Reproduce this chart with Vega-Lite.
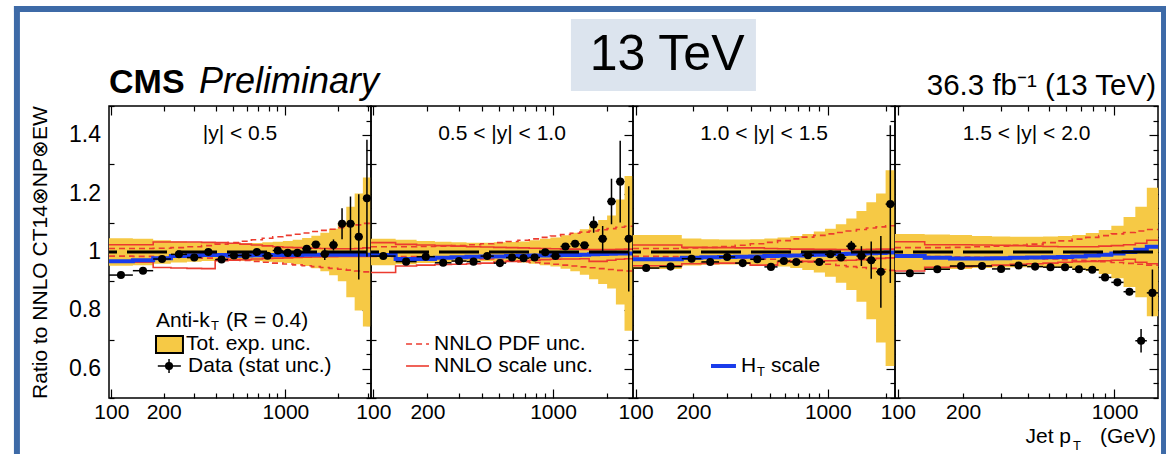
{
  "$schema": "https://vega.github.io/schema/vega-lite/v6.json",
  "autosize": {"type": "pad"},
  "padding": {"left": 10, "top": 2, "right": 0, "bottom": 0},
  "background": "white",
  "datasets": {
    "p1": [
      {"i":1,"lo":97,"hi":133,"pt":113.6,"r":0.921,"e":0.002,"bl":0.953,"bh":1.047,"su":1.025,"sd":0.965,"pu":1.012,"pd":0.986,"ht":0.968},
      {"i":2,"lo":133,"hi":174,"pt":152.1,"r":0.936,"e":0.002,"bl":0.955,"bh":1.045,"su":1.025,"sd":0.965,"pu":1.012,"pd":0.985,"ht":0.972},
      {"i":3,"lo":174,"hi":220,"pt":195.7,"r":0.976,"e":0.002,"bl":0.96,"bh":1.04,"su":1.034,"sd":0.947,"pu":1.013,"pd":0.984,"ht":0.979},
      {"i":4,"lo":220,"hi":272,"pt":244.6,"r":0.992,"e":0.002,"bl":0.964,"bh":1.036,"su":1.034,"sd":0.945,"pu":1.015,"pd":0.983,"ht":0.986},
      {"i":5,"lo":272,"hi":330,"pt":299.6,"r":0.981,"e":0.002,"bl":0.967,"bh":1.033,"su":1.034,"sd":0.944,"pu":1.018,"pd":0.981,"ht":0.989},
      {"i":6,"lo":330,"hi":395,"pt":361,"r":1.0,"e":0.002,"bl":0.969,"bh":1.031,"su":1.033,"sd":0.943,"pu":1.022,"pd":0.979,"ht":0.99},
      {"i":7,"lo":395,"hi":468,"pt":430,"r":0.974,"e":0.002,"bl":0.97,"bh":1.03,"su":1.032,"sd":0.97,"pu":1.027,"pd":0.977,"ht":0.99},
      {"i":8,"lo":468,"hi":548,"pt":506.4,"r":0.988,"e":0.002,"bl":0.97,"bh":1.03,"su":1.03,"sd":0.972,"pu":1.032,"pd":0.974,"ht":0.987},
      {"i":9,"lo":548,"hi":638,"pt":591.3,"r":0.988,"e":0.002,"bl":0.97,"bh":1.03,"su":1.027,"sd":0.974,"pu":1.037,"pd":0.971,"ht":0.988},
      {"i":10,"lo":638,"hi":737,"pt":685.7,"r":1.0,"e":0.002,"bl":0.969,"bh":1.031,"su":1.024,"sd":0.976,"pu":1.042,"pd":0.968,"ht":0.989},
      {"i":11,"lo":737,"hi":846,"pt":789.6,"r":0.987,"e":0.002,"bl":0.967,"bh":1.033,"su":1.021,"sd":0.978,"pu":1.047,"pd":0.965,"ht":0.99},
      {"i":12,"lo":846,"hi":967,"pt":904.5,"r":1.005,"e":0.003,"bl":0.965,"bh":1.035,"su":1.018,"sd":0.979,"pu":1.052,"pd":0.962,"ht":0.99},
      {"i":13,"lo":967,"hi":1101,"pt":1031.8,"r":0.997,"e":0.003,"bl":0.962,"bh":1.038,"su":1.016,"sd":0.98,"pu":1.057,"pd":0.959,"ht":0.99},
      {"i":14,"lo":1101,"hi":1248,"pt":1172.2,"r":0.997,"e":0.004,"bl":0.958,"bh":1.042,"su":1.015,"sd":0.981,"pu":1.061,"pd":0.956,"ht":0.99},
      {"i":15,"lo":1248,"hi":1410,"pt":1326.5,"r":1.011,"e":0.006,"bl":0.952,"bh":1.048,"su":1.014,"sd":0.982,"pu":1.065,"pd":0.953,"ht":0.991},
      {"i":16,"lo":1410,"hi":1588,"pt":1496.3,"r":1.026,"e":0.012,"bl":0.944,"bh":1.056,"su":1.013,"sd":0.983,"pu":1.07,"pd":0.95,"ht":0.991},
      {"i":17,"lo":1588,"hi":1784,"pt":1683.1,"r":0.993,"e":0.02,"bl":0.934,"bh":1.066,"su":1.012,"sd":0.984,"pu":1.074,"pd":0.947,"ht":0.991},
      {"i":18,"lo":1784,"hi":2000,"pt":1889,"r":1.024,"e":0.019,"bl":0.92,"bh":1.08,"su":1.011,"sd":0.984,"pu":1.078,"pd":0.944,"ht":0.991},
      {"i":19,"lo":2000,"hi":2238,"pt":2115.7,"r":1.097,"e":0.053,"bl":0.9,"bh":1.1,"su":1.011,"sd":0.985,"pu":1.083,"pd":0.941,"ht":0.991},
      {"i":20,"lo":2238,"hi":2500,"pt":2365.4,"r":1.097,"e":0.093,"bl":0.845,"bh":1.155,"su":1.011,"sd":0.985,"pu":1.088,"pd":0.938,"ht":0.991},
      {"i":21,"lo":2500,"hi":2787,"pt":2639.6,"r":1.052,"e":0.146,"bl":0.8,"bh":1.2,"su":1.012,"sd":0.985,"pu":1.093,"pd":0.935,"ht":0.991},
      {"i":22,"lo":2787,"hi":3103,"pt":2940.8,"r":1.184,"e":0.2,"bl":0.745,"bh":1.255,"su":1.014,"sd":0.985,"pu":1.098,"pd":0.932,"ht":0.991}
    ],
    "p2": [
      {"i":1,"lo":97,"hi":133,"pt":113.6,"r":0.986,"e":0.002,"bl":0.955,"bh":1.045,"su":1.032,"sd":0.93,"pu":1.018,"pd":0.985,"ht":0.99},
      {"i":2,"lo":133,"hi":174,"pt":152.1,"r":0.967,"e":0.002,"bl":0.958,"bh":1.042,"su":1.026,"sd":0.952,"pu":1.018,"pd":0.984,"ht":0.976},
      {"i":3,"lo":174,"hi":220,"pt":195.7,"r":0.984,"e":0.002,"bl":0.962,"bh":1.038,"su":1.024,"sd":0.955,"pu":1.019,"pd":0.983,"ht":0.976},
      {"i":4,"lo":220,"hi":272,"pt":244.6,"r":0.963,"e":0.002,"bl":0.965,"bh":1.035,"su":1.022,"sd":0.957,"pu":1.02,"pd":0.982,"ht":0.98},
      {"i":5,"lo":272,"hi":330,"pt":299.6,"r":0.969,"e":0.002,"bl":0.967,"bh":1.033,"su":1.02,"sd":0.958,"pu":1.022,"pd":0.98,"ht":0.982},
      {"i":6,"lo":330,"hi":395,"pt":361,"r":0.967,"e":0.002,"bl":0.968,"bh":1.032,"su":1.018,"sd":0.96,"pu":1.025,"pd":0.978,"ht":0.984},
      {"i":7,"lo":395,"hi":468,"pt":430,"r":0.986,"e":0.002,"bl":0.968,"bh":1.032,"su":1.017,"sd":0.962,"pu":1.028,"pd":0.976,"ht":0.985},
      {"i":8,"lo":468,"hi":548,"pt":506.4,"r":0.962,"e":0.002,"bl":0.967,"bh":1.033,"su":1.016,"sd":0.966,"pu":1.032,"pd":0.973,"ht":0.985},
      {"i":9,"lo":548,"hi":638,"pt":591.3,"r":0.981,"e":0.002,"bl":0.966,"bh":1.034,"su":1.015,"sd":0.968,"pu":1.036,"pd":0.97,"ht":0.986},
      {"i":10,"lo":638,"hi":737,"pt":685.7,"r":0.979,"e":0.002,"bl":0.964,"bh":1.036,"su":1.014,"sd":0.97,"pu":1.04,"pd":0.967,"ht":0.987},
      {"i":11,"lo":737,"hi":846,"pt":789.6,"r":0.981,"e":0.003,"bl":0.96,"bh":1.04,"su":1.013,"sd":0.972,"pu":1.045,"pd":0.964,"ht":0.988},
      {"i":12,"lo":846,"hi":967,"pt":904.5,"r":0.999,"e":0.003,"bl":0.955,"bh":1.045,"su":1.012,"sd":0.974,"pu":1.05,"pd":0.961,"ht":0.988},
      {"i":13,"lo":967,"hi":1101,"pt":1031.8,"r":0.986,"e":0.004,"bl":0.95,"bh":1.05,"su":1.011,"sd":0.975,"pu":1.055,"pd":0.958,"ht":0.989},
      {"i":14,"lo":1101,"hi":1248,"pt":1172.2,"r":1.019,"e":0.006,"bl":0.943,"bh":1.057,"su":1.01,"sd":0.976,"pu":1.06,"pd":0.955,"ht":0.99},
      {"i":15,"lo":1248,"hi":1410,"pt":1326.5,"r":1.028,"e":0.008,"bl":0.934,"bh":1.066,"su":1.01,"sd":0.976,"pu":1.064,"pd":0.952,"ht":0.99},
      {"i":16,"lo":1410,"hi":1588,"pt":1496.3,"r":1.023,"e":0.01,"bl":0.922,"bh":1.078,"su":1.009,"sd":0.977,"pu":1.068,"pd":0.949,"ht":0.991},
      {"i":17,"lo":1588,"hi":1784,"pt":1683.1,"r":1.094,"e":0.028,"bl":0.907,"bh":1.093,"su":1.008,"sd":0.968,"pu":1.072,"pd":0.946,"ht":0.992},
      {"i":18,"lo":1784,"hi":2000,"pt":1889,"r":1.045,"e":0.044,"bl":0.89,"bh":1.11,"su":1.008,"sd":0.968,"pu":1.076,"pd":0.943,"ht":0.993},
      {"i":19,"lo":2000,"hi":2238,"pt":2115.7,"r":1.173,"e":0.078,"bl":0.875,"bh":1.125,"su":1.008,"sd":0.972,"pu":1.08,"pd":0.94,"ht":0.994},
      {"i":20,"lo":2238,"hi":2500,"pt":2365.4,"r":1.241,"e":0.14,"bl":0.82,"bh":1.18,"su":1.009,"sd":0.975,"pu":1.085,"pd":0.937,"ht":0.995},
      {"i":21,"lo":2500,"hi":2787,"pt":2639.6,"r":1.045,"e":0.18,"bl":0.73,"bh":1.26,"su":1.01,"sd":0.977,"pu":1.088,"pd":0.935,"ht":0.995}
    ],
    "p3": [
      {"i":1,"lo":97,"hi":133,"pt":113.6,"r":0.945,"e":0.002,"bl":0.942,"bh":1.058,"su":1.024,"sd":0.953,"pu":1.012,"pd":0.985,"ht":0.975},
      {"i":2,"lo":133,"hi":174,"pt":152.1,"r":0.95,"e":0.002,"bl":0.942,"bh":1.058,"su":1.024,"sd":0.953,"pu":1.012,"pd":0.984,"ht":0.975},
      {"i":3,"lo":174,"hi":220,"pt":195.7,"r":0.977,"e":0.002,"bl":0.954,"bh":1.046,"su":1.016,"sd":0.96,"pu":1.014,"pd":0.983,"ht":0.98},
      {"i":4,"lo":220,"hi":272,"pt":244.6,"r":0.966,"e":0.002,"bl":0.956,"bh":1.044,"su":1.015,"sd":0.961,"pu":1.016,"pd":0.982,"ht":0.982},
      {"i":5,"lo":272,"hi":330,"pt":299.6,"r":0.983,"e":0.002,"bl":0.957,"bh":1.043,"su":1.015,"sd":0.962,"pu":1.019,"pd":0.981,"ht":0.983},
      {"i":6,"lo":330,"hi":395,"pt":361,"r":0.962,"e":0.002,"bl":0.957,"bh":1.043,"su":1.014,"sd":0.962,"pu":1.023,"pd":0.979,"ht":0.984},
      {"i":7,"lo":395,"hi":468,"pt":430,"r":0.975,"e":0.002,"bl":0.956,"bh":1.044,"su":1.014,"sd":0.955,"pu":1.028,"pd":0.977,"ht":0.985},
      {"i":8,"lo":468,"hi":548,"pt":506.4,"r":0.949,"e":0.002,"bl":0.954,"bh":1.046,"su":1.012,"sd":0.955,"pu":1.033,"pd":0.975,"ht":0.986},
      {"i":9,"lo":548,"hi":638,"pt":591.3,"r":0.969,"e":0.002,"bl":0.95,"bh":1.05,"su":1.011,"sd":0.966,"pu":1.039,"pd":0.972,"ht":0.987},
      {"i":10,"lo":638,"hi":737,"pt":685.7,"r":0.966,"e":0.003,"bl":0.945,"bh":1.055,"su":1.01,"sd":0.967,"pu":1.045,"pd":0.969,"ht":0.988},
      {"i":11,"lo":737,"hi":846,"pt":789.6,"r":0.989,"e":0.003,"bl":0.938,"bh":1.062,"su":1.01,"sd":0.968,"pu":1.051,"pd":0.966,"ht":0.99},
      {"i":12,"lo":846,"hi":967,"pt":904.5,"r":0.966,"e":0.004,"bl":0.93,"bh":1.07,"su":1.009,"sd":0.969,"pu":1.057,"pd":0.962,"ht":0.991},
      {"i":13,"lo":967,"hi":1101,"pt":1031.8,"r":0.992,"e":0.005,"bl":0.915,"bh":1.08,"su":1.009,"sd":0.97,"pu":1.062,"pd":0.958,"ht":0.992},
      {"i":14,"lo":1101,"hi":1248,"pt":1172.2,"r":0.981,"e":0.007,"bl":0.895,"bh":1.095,"su":1.008,"sd":0.971,"pu":1.067,"pd":0.954,"ht":0.993},
      {"i":15,"lo":1248,"hi":1410,"pt":1326.5,"r":1.02,"e":0.018,"bl":0.87,"bh":1.115,"su":1.008,"sd":0.972,"pu":1.072,"pd":0.95,"ht":0.994},
      {"i":16,"lo":1410,"hi":1588,"pt":1496.3,"r":0.986,"e":0.034,"bl":0.83,"bh":1.14,"su":1.008,"sd":0.974,"pu":1.077,"pd":0.947,"ht":0.995},
      {"i":17,"lo":1588,"hi":1784,"pt":1683.1,"r":0.972,"e":0.064,"bl":0.77,"bh":1.17,"su":1.009,"sd":0.976,"pu":1.082,"pd":0.944,"ht":0.996},
      {"i":18,"lo":1784,"hi":2000,"pt":1889,"r":0.932,"e":0.123,"bl":0.69,"bh":1.2,"su":1.01,"sd":0.978,"pu":1.086,"pd":0.94,"ht":0.997},
      {"i":19,"lo":2000,"hi":2238,"pt":2115.7,"r":1.164,"e":0.27,"bl":0.61,"bh":1.28,"su":1.01,"sd":0.98,"pu":1.09,"pd":0.937,"ht":0.998}
    ],
    "p4": [
      {"i":1,"lo":97,"hi":133,"pt":113.6,"r":0.927,"e":0.002,"bl":0.938,"bh":1.062,"su":1.035,"sd":0.935,"pu":1.015,"pd":0.985,"ht":0.986},
      {"i":2,"lo":133,"hi":174,"pt":152.1,"r":0.941,"e":0.002,"bl":0.94,"bh":1.06,"su":1.025,"sd":0.948,"pu":1.015,"pd":0.984,"ht":0.98},
      {"i":3,"lo":174,"hi":220,"pt":195.7,"r":0.952,"e":0.002,"bl":0.942,"bh":1.058,"su":1.025,"sd":0.95,"pu":1.016,"pd":0.983,"ht":0.978},
      {"i":4,"lo":220,"hi":272,"pt":244.6,"r":0.952,"e":0.002,"bl":0.945,"bh":1.055,"su":1.024,"sd":0.952,"pu":1.018,"pd":0.982,"ht":0.978},
      {"i":5,"lo":272,"hi":330,"pt":299.6,"r":0.942,"e":0.002,"bl":0.947,"bh":1.053,"su":1.023,"sd":0.955,"pu":1.02,"pd":0.981,"ht":0.979},
      {"i":6,"lo":330,"hi":395,"pt":361,"r":0.954,"e":0.002,"bl":0.948,"bh":1.052,"su":1.022,"sd":0.958,"pu":1.023,"pd":0.98,"ht":0.98},
      {"i":7,"lo":395,"hi":468,"pt":430,"r":0.95,"e":0.002,"bl":0.948,"bh":1.052,"su":1.02,"sd":0.96,"pu":1.027,"pd":0.978,"ht":0.981},
      {"i":8,"lo":468,"hi":548,"pt":506.4,"r":0.948,"e":0.002,"bl":0.947,"bh":1.053,"su":1.019,"sd":0.962,"pu":1.032,"pd":0.976,"ht":0.982},
      {"i":9,"lo":548,"hi":638,"pt":591.3,"r":0.948,"e":0.003,"bl":0.945,"bh":1.055,"su":1.018,"sd":0.965,"pu":1.038,"pd":0.974,"ht":0.983},
      {"i":10,"lo":638,"hi":737,"pt":685.7,"r":0.941,"e":0.003,"bl":0.942,"bh":1.058,"su":1.018,"sd":0.967,"pu":1.044,"pd":0.972,"ht":0.985},
      {"i":11,"lo":737,"hi":846,"pt":789.6,"r":0.939,"e":0.004,"bl":0.935,"bh":1.065,"su":1.018,"sd":0.968,"pu":1.05,"pd":0.97,"ht":0.988},
      {"i":12,"lo":846,"hi":967,"pt":904.5,"r":0.913,"e":0.005,"bl":0.925,"bh":1.075,"su":1.02,"sd":0.97,"pu":1.056,"pd":0.967,"ht":0.991},
      {"i":13,"lo":967,"hi":1101,"pt":1031.8,"r":0.896,"e":0.007,"bl":0.91,"bh":1.09,"su":1.022,"sd":0.972,"pu":1.062,"pd":0.964,"ht":0.995},
      {"i":14,"lo":1101,"hi":1248,"pt":1172.2,"r":0.864,"e":0.012,"bl":0.88,"bh":1.12,"su":1.025,"sd":0.975,"pu":1.067,"pd":0.961,"ht":1.0},
      {"i":15,"lo":1248,"hi":1410,"pt":1326.5,"r":0.696,"e":0.04,"bl":0.845,"bh":1.155,"su":1.03,"sd":0.965,"pu":1.072,"pd":0.958,"ht":1.008},
      {"i":16,"lo":1410,"hi":1588,"pt":1496.3,"r":0.86,"e":0.08,"bl":0.78,"bh":1.22,"su":1.04,"sd":0.96,"pu":1.077,"pd":0.955,"ht":1.018}
    ]
  },
  "spacing": 0,
  "bounds": "flush",
  "hconcat": [
    {
      "width": 262, "height": 292,
      "data": {"name": "p1"},
      "layer": [
        {
          "layer": [
            {"transform": [{"fold": ["lo", "hi"], "as": ["edge", "xe"]}],
             "mark": {"type": "area", "color": "#f6c945", "opacity": 1},
             "encoding": {
               "x": {"field": "xe", "type": "quantitative", "scale": {"type": "log", "domain": [97, 3103], "nice": false},
                     "axis": {"orient": "bottom", "title": null, "values": [100,200,300,400,500,600,700,800,900,1000,2000,3000],
                              "tickSize": {"condition": {"test": "datum.value == 100 || datum.value == 1000", "value": -9}, "value": -5},
                              "labelPadding": {"condition": {"test": "datum.value == 100 || datum.value == 1000", "value": 12}, "value": 8},
                              "labelExpr": "datum.value == 100 ? '100' : datum.value == 200 ? '200' : datum.value == 1000 ? '1000' : ''"}},
               "y": {"field": "bl", "type": "quantitative", "scale": {"domain": [0.5, 1.5], "nice": false, "zero": false},
                     "axis": {"orient": "left", "title": "Ratio to NNLO CT14⊗NP⊗EW", "titlePadding": 58, "labels": false,
                              "values": [0.5,0.55,0.6,0.65,0.7,0.75,0.8,0.85,0.9,0.95,1,1.05,1.1,1.15,1.2,1.25,1.3,1.35,1.4,1.45,1.5],
                              "tickSize": {"condition": {"test": "datum.value == 0.6 || datum.value == 0.8 || datum.value == 1 || datum.value == 1.2 || datum.value == 1.4", "value": -9}, "value": -5}}},
               "y2": {"field": "bh"},
               "order": [{"field": "i", "type": "quantitative"}, {"field": "edge", "type": "nominal", "sort": "descending"}]}},
            {"transform": [{"fold": ["lo", "hi"], "as": ["edge", "xe"]}],
             "mark": {"type": "line", "color": "#ec3b2f", "strokeWidth": 1.6, "strokeDash": [6, 4]},
             "encoding": {"x": {"field": "xe", "type": "quantitative"}, "y": {"field": "pu", "type": "quantitative"},
                          "order": [{"field": "i", "type": "quantitative"}, {"field": "edge", "type": "nominal", "sort": "descending"}]}},
            {"transform": [{"fold": ["lo", "hi"], "as": ["edge", "xe"]}],
             "mark": {"type": "line", "color": "#ec3b2f", "strokeWidth": 1.6, "strokeDash": [6, 4]},
             "encoding": {"x": {"field": "xe", "type": "quantitative"}, "y": {"field": "pd", "type": "quantitative"},
                          "order": [{"field": "i", "type": "quantitative"}, {"field": "edge", "type": "nominal", "sort": "descending"}]}},
            {"transform": [{"fold": ["lo", "hi"], "as": ["edge", "xe"]}],
             "mark": {"type": "line", "color": "#ec3b2f", "strokeWidth": 1.6},
             "encoding": {"x": {"field": "xe", "type": "quantitative"}, "y": {"field": "su", "type": "quantitative"},
                          "order": [{"field": "i", "type": "quantitative"}, {"field": "edge", "type": "nominal", "sort": "descending"}]}},
            {"transform": [{"fold": ["lo", "hi"], "as": ["edge", "xe"]}],
             "mark": {"type": "line", "color": "#ec3b2f", "strokeWidth": 1.6},
             "encoding": {"x": {"field": "xe", "type": "quantitative"}, "y": {"field": "sd", "type": "quantitative"},
                          "order": [{"field": "i", "type": "quantitative"}, {"field": "edge", "type": "nominal", "sort": "descending"}]}},
            {"transform": [{"fold": ["lo", "hi"], "as": ["edge", "xe"]}],
             "mark": {"type": "line", "color": "#1a3ceb", "strokeWidth": 4},
             "encoding": {"x": {"field": "xe", "type": "quantitative"}, "y": {"field": "ht", "type": "quantitative"},
                          "order": [{"field": "i", "type": "quantitative"}, {"field": "edge", "type": "nominal", "sort": "descending"}]}},
            {"mark": {"type": "rule", "color": "black", "strokeWidth": 1.5},
             "encoding": {"x": {"field": "lo", "type": "quantitative"}, "x2": {"field": "hi"}, "y": {"field": "r", "type": "quantitative"}}},
            {"mark": {"type": "errorbar", "color": "black", "thickness": 1.5},
             "encoding": {"x": {"field": "pt", "type": "quantitative"}, "y": {"field": "r", "type": "quantitative", "title": "Ratio to NNLO CT14⊗NP⊗EW"}, "yError": {"field": "e"}}},
            {"mark": {"type": "point", "shape": "circle", "filled": true, "color": "black", "opacity": 1, "size": 65},
             "encoding": {"x": {"field": "pt", "type": "quantitative"}, "y": {"field": "r", "type": "quantitative"}}},
            {"data": {"values": [{"v": 0.6}, {"v": 0.8}, {"v": 1}, {"v": 1.2}, {"v": 1.4}]},
             "mark": {"type": "text", "align": "right", "baseline": "middle", "fontSize": 23},
             "encoding": {"x": {"datum": 87.3, "type": "quantitative"}, "y": {"field": "v", "type": "quantitative"},
                          "text": {"field": "v", "type": "quantitative", "format": "~g"}}},
            {"data": {"values": [{}]}, "mark": {"type": "text", "text": "|y| < 0.5", "align": "center", "baseline": "middle"},
             "encoding": {"x": {"datum": 548.6, "type": "quantitative"}, "y": {"datum": 1.404, "type": "quantitative"}}},
            {"data": {"values": [{}]}, "mark": {"type": "text", "text": "CMS", "fontSize": 34, "fontWeight": "bold", "align": "left", "baseline": "alphabetic"},
             "encoding": {"x": {"datum": 97, "type": "quantitative"}, "y": {"datum": 1.5445, "type": "quantitative"}}},
            {"data": {"values": [{}]}, "mark": {"type": "text", "text": "Preliminary", "fontSize": 36, "fontStyle": "italic", "align": "left", "baseline": "alphabetic", "dx": 90},
             "encoding": {"x": {"datum": 97, "type": "quantitative"}, "y": {"datum": 1.5445, "type": "quantitative"}}},
            {"data": {"values": [{}]}, "mark": {"type": "text", "text": "Anti-k", "align": "left", "baseline": "middle"},
             "encoding": {"x": {"datum": 180.6, "type": "quantitative"}, "y": {"datum": 0.7637, "type": "quantitative"}}},
            {"data": {"values": [{}]}, "mark": {"type": "text", "text": "T", "fontSize": 13, "align": "left", "baseline": "middle", "dx": 55, "dy": 5},
             "encoding": {"x": {"datum": 180.6, "type": "quantitative"}, "y": {"datum": 0.7637, "type": "quantitative"}}},
            {"data": {"values": [{}]}, "mark": {"type": "text", "text": "(R = 0.4)", "align": "left", "baseline": "middle", "dx": 70},
             "encoding": {"x": {"datum": 180.6, "type": "quantitative"}, "y": {"datum": 0.7637, "type": "quantitative"}}},
            {"data": {"values": [{}]}, "mark": {"type": "rect", "color": "#f6c945", "stroke": "black", "strokeWidth": 2},
             "encoding": {"x": {"datum": 180.6, "type": "quantitative"}, "x2": {"datum": 258}, "y": {"datum": 0.7123, "type": "quantitative"}, "y2": {"datum": 0.6541}}},
            {"data": {"values": [{}]}, "mark": {"type": "text", "text": "Tot. exp. unc.", "align": "left", "baseline": "middle"},
             "encoding": {"x": {"datum": 268.6, "type": "quantitative"}, "y": {"datum": 0.6849, "type": "quantitative"}}},
            {"data": {"values": [{}]}, "mark": {"type": "rule", "color": "black", "strokeWidth": 1.5},
             "encoding": {"x": {"datum": 185, "type": "quantitative"}, "x2": {"datum": 251}, "y": {"datum": 0.6096, "type": "quantitative"}}},
            {"data": {"values": [{}]}, "mark": {"type": "rule", "color": "black", "strokeWidth": 1.5},
             "encoding": {"x": {"datum": 214.6, "type": "quantitative"}, "y": {"datum": 0.6336, "type": "quantitative"}, "y2": {"datum": 0.5856}}},
            {"data": {"values": [{}]}, "mark": {"type": "point", "shape": "circle", "filled": true, "color": "black", "opacity": 1, "size": 65},
             "encoding": {"x": {"datum": 214.6, "type": "quantitative"}, "y": {"datum": 0.6096, "type": "quantitative"}}},
            {"data": {"values": [{}]}, "mark": {"type": "text", "text": "Data (stat unc.)", "align": "left", "baseline": "middle"},
             "encoding": {"x": {"datum": 276, "type": "quantitative"}, "y": {"datum": 0.6096, "type": "quantitative"}}},
            {"data": {"values": [{}]}, "mark": {"type": "rule", "color": "#3d6aa7", "strokeWidth": 6},
             "encoding": {"x": {"datum": 28.7, "type": "quantitative"}, "y": {"datum": 1.8425, "type": "quantitative"}, "y2": {"datum": 0.3048}}},
            {"data": {"values": [{}]}, "mark": {"type": "rule", "color": "#3d6aa7", "strokeWidth": 6},
             "encoding": {"x": {"datum": 27.6, "type": "quantitative"}, "x2": {"datum": 3103}, "y": {"datum": 1.832, "type": "quantitative"}}}
          ]
        },
        {"data": {"values": [{}]},
         "mark": {"type": "rule", "color": "black", "strokeWidth": 3, "strokeDash": [40, 10], "strokeDashOffset": -18},
         "encoding": {
           "x": {"datum": 97, "type": "quantitative", "scale": {"type": "log", "domain": [97, 3103], "nice": false},
                 "axis": {"orient": "top", "title": null, "labels": false, "values": [100,200,300,400,500,600,700,800,900,1000,2000,3000],
                          "tickSize": {"condition": {"test": "datum.value == 100 || datum.value == 1000", "value": -9}, "value": -5}}},
           "x2": {"datum": 3103},
           "y": {"datum": 1, "type": "quantitative", "scale": {"domain": [0.5, 1.5], "nice": false, "zero": false},
                 "axis": {"orient": "right", "title": null, "labels": false,
                          "values": [0.5,0.55,0.6,0.65,0.7,0.75,0.8,0.85,0.9,0.95,1,1.05,1.1,1.15,1.2,1.25,1.3,1.35,1.4,1.45,1.5],
                          "tickSize": {"condition": {"test": "datum.value == 0.6 || datum.value == 0.8 || datum.value == 1 || datum.value == 1.2 || datum.value == 1.4", "value": -9}, "value": -5}}}}}
      ],
      "resolve": {"scale": {"x": "independent", "y": "independent"}}
    },
    {
      "width": 262, "height": 292,
      "data": {"name": "p2"},
      "layer": [
        {
          "layer": [
            {"transform": [{"fold": ["lo", "hi"], "as": ["edge", "xe"]}],
             "mark": {"type": "area", "color": "#f6c945", "opacity": 1},
             "encoding": {
               "x": {"field": "xe", "type": "quantitative", "scale": {"type": "log", "domain": [97, 2787], "nice": false},
                     "axis": {"orient": "bottom", "title": null, "values": [100,200,300,400,500,600,700,800,900,1000,2000],
                              "tickSize": {"condition": {"test": "datum.value == 100 || datum.value == 1000", "value": -9}, "value": -5},
                              "labelPadding": {"condition": {"test": "datum.value == 100 || datum.value == 1000", "value": 12}, "value": 8},
                              "labelExpr": "datum.value == 100 ? '100' : datum.value == 200 ? '200' : datum.value == 1000 ? '1000' : ''"}},
               "y": {"field": "bl", "type": "quantitative", "scale": {"domain": [0.5, 1.5], "nice": false, "zero": false},
                     "axis": {"orient": "left", "title": null, "labels": false,
                              "values": [0.5,0.55,0.6,0.65,0.7,0.75,0.8,0.85,0.9,0.95,1,1.05,1.1,1.15,1.2,1.25,1.3,1.35,1.4,1.45,1.5],
                              "tickSize": {"condition": {"test": "datum.value == 0.6 || datum.value == 0.8 || datum.value == 1 || datum.value == 1.2 || datum.value == 1.4", "value": -9}, "value": -5}}},
               "y2": {"field": "bh"},
               "order": [{"field": "i", "type": "quantitative"}, {"field": "edge", "type": "nominal", "sort": "descending"}]}},
            {"transform": [{"fold": ["lo", "hi"], "as": ["edge", "xe"]}],
             "mark": {"type": "line", "color": "#ec3b2f", "strokeWidth": 1.6, "strokeDash": [6, 4]},
             "encoding": {"x": {"field": "xe", "type": "quantitative"}, "y": {"field": "pu", "type": "quantitative"},
                          "order": [{"field": "i", "type": "quantitative"}, {"field": "edge", "type": "nominal", "sort": "descending"}]}},
            {"transform": [{"fold": ["lo", "hi"], "as": ["edge", "xe"]}],
             "mark": {"type": "line", "color": "#ec3b2f", "strokeWidth": 1.6, "strokeDash": [6, 4]},
             "encoding": {"x": {"field": "xe", "type": "quantitative"}, "y": {"field": "pd", "type": "quantitative"},
                          "order": [{"field": "i", "type": "quantitative"}, {"field": "edge", "type": "nominal", "sort": "descending"}]}},
            {"transform": [{"fold": ["lo", "hi"], "as": ["edge", "xe"]}],
             "mark": {"type": "line", "color": "#ec3b2f", "strokeWidth": 1.6},
             "encoding": {"x": {"field": "xe", "type": "quantitative"}, "y": {"field": "su", "type": "quantitative"},
                          "order": [{"field": "i", "type": "quantitative"}, {"field": "edge", "type": "nominal", "sort": "descending"}]}},
            {"transform": [{"fold": ["lo", "hi"], "as": ["edge", "xe"]}],
             "mark": {"type": "line", "color": "#ec3b2f", "strokeWidth": 1.6},
             "encoding": {"x": {"field": "xe", "type": "quantitative"}, "y": {"field": "sd", "type": "quantitative"},
                          "order": [{"field": "i", "type": "quantitative"}, {"field": "edge", "type": "nominal", "sort": "descending"}]}},
            {"transform": [{"fold": ["lo", "hi"], "as": ["edge", "xe"]}],
             "mark": {"type": "line", "color": "#1a3ceb", "strokeWidth": 4},
             "encoding": {"x": {"field": "xe", "type": "quantitative"}, "y": {"field": "ht", "type": "quantitative"},
                          "order": [{"field": "i", "type": "quantitative"}, {"field": "edge", "type": "nominal", "sort": "descending"}]}},
            {"mark": {"type": "rule", "color": "black", "strokeWidth": 1.5},
             "encoding": {"x": {"field": "lo", "type": "quantitative"}, "x2": {"field": "hi"}, "y": {"field": "r", "type": "quantitative"}}},
            {"mark": {"type": "errorbar", "color": "black", "thickness": 1.5},
             "encoding": {"x": {"field": "pt", "type": "quantitative"}, "y": {"field": "r", "type": "quantitative"}, "yError": {"field": "e"}}},
            {"mark": {"type": "point", "shape": "circle", "filled": true, "color": "black", "opacity": 1, "size": 65},
             "encoding": {"x": {"field": "pt", "type": "quantitative"}, "y": {"field": "r", "type": "quantitative"}}},
            {"data": {"values": [{}]}, "mark": {"type": "text", "text": "0.5 < |y| < 1.0", "align": "center", "baseline": "middle"},
             "encoding": {"x": {"datum": 519.9, "type": "quantitative"}, "y": {"datum": 1.404, "type": "quantitative"}}},
            {"data": {"values": [{}]}, "mark": {"type": "rule", "color": "#ec3b2f", "strokeWidth": 1.6, "strokeDash": [6, 4]},
             "encoding": {"x": {"datum": 152, "type": "quantitative"}, "x2": {"datum": 204}, "y": {"datum": 0.6849, "type": "quantitative"}}},
            {"data": {"values": [{}]}, "mark": {"type": "text", "text": "NNLO PDF unc.", "align": "left", "baseline": "middle"},
             "encoding": {"x": {"datum": 217.5, "type": "quantitative"}, "y": {"datum": 0.6849, "type": "quantitative"}}},
            {"data": {"values": [{}]}, "mark": {"type": "rule", "color": "#ec3b2f", "strokeWidth": 1.6},
             "encoding": {"x": {"datum": 152, "type": "quantitative"}, "x2": {"datum": 204}, "y": {"datum": 0.6096, "type": "quantitative"}}},
            {"data": {"values": [{}]}, "mark": {"type": "text", "text": "NNLO scale unc.", "align": "left", "baseline": "middle"},
             "encoding": {"x": {"datum": 217.5, "type": "quantitative"}, "y": {"datum": 0.6096, "type": "quantitative"}}},
            {"data": {"values": [{}]}, "mark": {"type": "rule", "color": "#3d6aa7", "strokeWidth": 6},
             "encoding": {"x": {"datum": 97, "type": "quantitative"}, "x2": {"datum": 2787}, "y": {"datum": 1.832, "type": "quantitative"}}}
          ]
        },
        {"data": {"values": [{}]},
         "mark": {"type": "rule", "color": "black", "strokeWidth": 3, "strokeDash": [40, 10], "strokeDashOffset": -18},
         "encoding": {
           "x": {"datum": 97, "type": "quantitative", "scale": {"type": "log", "domain": [97, 2787], "nice": false},
                 "axis": {"orient": "top", "title": null, "labels": false, "values": [100,200,300,400,500,600,700,800,900,1000,2000],
                          "tickSize": {"condition": {"test": "datum.value == 100 || datum.value == 1000", "value": -9}, "value": -5}}},
           "x2": {"datum": 2787},
           "y": {"datum": 1, "type": "quantitative", "scale": {"domain": [0.5, 1.5], "nice": false, "zero": false},
                 "axis": {"orient": "right", "title": null, "labels": false,
                          "values": [0.5,0.55,0.6,0.65,0.7,0.75,0.8,0.85,0.9,0.95,1,1.05,1.1,1.15,1.2,1.25,1.3,1.35,1.4,1.45,1.5],
                          "tickSize": {"condition": {"test": "datum.value == 0.6 || datum.value == 0.8 || datum.value == 1 || datum.value == 1.2 || datum.value == 1.4", "value": -9}, "value": -5}}}}}
      ],
      "resolve": {"scale": {"x": "independent", "y": "independent"}}
    },
    {
      "width": 262, "height": 292,
      "data": {"name": "p3"},
      "layer": [
        {
          "layer": [
            {"transform": [{"fold": ["lo", "hi"], "as": ["edge", "xe"]}],
             "mark": {"type": "area", "color": "#f6c945", "opacity": 1},
             "encoding": {
               "x": {"field": "xe", "type": "quantitative", "scale": {"type": "log", "domain": [97, 2238], "nice": false},
                     "axis": {"orient": "bottom", "title": null, "values": [100,200,300,400,500,600,700,800,900,1000,2000],
                              "tickSize": {"condition": {"test": "datum.value == 100 || datum.value == 1000", "value": -9}, "value": -5},
                              "labelPadding": {"condition": {"test": "datum.value == 100 || datum.value == 1000", "value": 12}, "value": 8},
                              "labelExpr": "datum.value == 100 ? '100' : datum.value == 200 ? '200' : datum.value == 1000 ? '1000' : ''"}},
               "y": {"field": "bl", "type": "quantitative", "scale": {"domain": [0.5, 1.5], "nice": false, "zero": false},
                     "axis": {"orient": "left", "title": null, "labels": false,
                              "values": [0.5,0.55,0.6,0.65,0.7,0.75,0.8,0.85,0.9,0.95,1,1.05,1.1,1.15,1.2,1.25,1.3,1.35,1.4,1.45,1.5],
                              "tickSize": {"condition": {"test": "datum.value == 0.6 || datum.value == 0.8 || datum.value == 1 || datum.value == 1.2 || datum.value == 1.4", "value": -9}, "value": -5}}},
               "y2": {"field": "bh"},
               "order": [{"field": "i", "type": "quantitative"}, {"field": "edge", "type": "nominal", "sort": "descending"}]}},
            {"transform": [{"fold": ["lo", "hi"], "as": ["edge", "xe"]}],
             "mark": {"type": "line", "color": "#ec3b2f", "strokeWidth": 1.6, "strokeDash": [6, 4]},
             "encoding": {"x": {"field": "xe", "type": "quantitative"}, "y": {"field": "pu", "type": "quantitative"},
                          "order": [{"field": "i", "type": "quantitative"}, {"field": "edge", "type": "nominal", "sort": "descending"}]}},
            {"transform": [{"fold": ["lo", "hi"], "as": ["edge", "xe"]}],
             "mark": {"type": "line", "color": "#ec3b2f", "strokeWidth": 1.6, "strokeDash": [6, 4]},
             "encoding": {"x": {"field": "xe", "type": "quantitative"}, "y": {"field": "pd", "type": "quantitative"},
                          "order": [{"field": "i", "type": "quantitative"}, {"field": "edge", "type": "nominal", "sort": "descending"}]}},
            {"transform": [{"fold": ["lo", "hi"], "as": ["edge", "xe"]}],
             "mark": {"type": "line", "color": "#ec3b2f", "strokeWidth": 1.6},
             "encoding": {"x": {"field": "xe", "type": "quantitative"}, "y": {"field": "su", "type": "quantitative"},
                          "order": [{"field": "i", "type": "quantitative"}, {"field": "edge", "type": "nominal", "sort": "descending"}]}},
            {"transform": [{"fold": ["lo", "hi"], "as": ["edge", "xe"]}],
             "mark": {"type": "line", "color": "#ec3b2f", "strokeWidth": 1.6},
             "encoding": {"x": {"field": "xe", "type": "quantitative"}, "y": {"field": "sd", "type": "quantitative"},
                          "order": [{"field": "i", "type": "quantitative"}, {"field": "edge", "type": "nominal", "sort": "descending"}]}},
            {"transform": [{"fold": ["lo", "hi"], "as": ["edge", "xe"]}],
             "mark": {"type": "line", "color": "#1a3ceb", "strokeWidth": 4},
             "encoding": {"x": {"field": "xe", "type": "quantitative"}, "y": {"field": "ht", "type": "quantitative"},
                          "order": [{"field": "i", "type": "quantitative"}, {"field": "edge", "type": "nominal", "sort": "descending"}]}},
            {"mark": {"type": "rule", "color": "black", "strokeWidth": 1.5},
             "encoding": {"x": {"field": "lo", "type": "quantitative"}, "x2": {"field": "hi"}, "y": {"field": "r", "type": "quantitative"}}},
            {"mark": {"type": "errorbar", "color": "black", "thickness": 1.5},
             "encoding": {"x": {"field": "pt", "type": "quantitative"}, "y": {"field": "r", "type": "quantitative"}, "yError": {"field": "e"}}},
            {"mark": {"type": "point", "shape": "circle", "filled": true, "color": "black", "opacity": 1, "size": 65},
             "encoding": {"x": {"field": "pt", "type": "quantitative"}, "y": {"field": "r", "type": "quantitative"}}},
            {"data": {"values": [{}]}, "mark": {"type": "text", "text": "1.0 < |y| < 1.5", "align": "center", "baseline": "middle"},
             "encoding": {"x": {"datum": 465.9, "type": "quantitative"}, "y": {"datum": 1.404, "type": "quantitative"}}},
            {"data": {"values": [{}]}, "mark": {"type": "rule", "color": "#1a3ceb", "strokeWidth": 4},
             "encoding": {"x": {"datum": 247, "type": "quantitative"}, "x2": {"datum": 333}, "y": {"datum": 0.6096, "type": "quantitative"}}},
            {"data": {"values": [{}]}, "mark": {"type": "text", "text": "H", "align": "left", "baseline": "middle"},
             "encoding": {"x": {"datum": 354, "type": "quantitative"}, "y": {"datum": 0.6096, "type": "quantitative"}}},
            {"data": {"values": [{}]}, "mark": {"type": "text", "text": "T", "fontSize": 13, "align": "left", "baseline": "middle", "dx": 16, "dy": 6},
             "encoding": {"x": {"datum": 354, "type": "quantitative"}, "y": {"datum": 0.6096, "type": "quantitative"}}},
            {"data": {"values": [{}]}, "mark": {"type": "text", "text": "scale", "align": "left", "baseline": "middle", "dx": 30},
             "encoding": {"x": {"datum": 354, "type": "quantitative"}, "y": {"datum": 0.6096, "type": "quantitative"}}},
            {"data": {"values": [{}]}, "mark": {"type": "rect", "color": "#dce4ee"},
             "encoding": {"x": {"datum": 46.1, "type": "quantitative"}, "x2": {"datum": 423}, "y": {"datum": 1.798, "type": "quantitative"}, "y2": {"datum": 1.551}}},
            {"data": {"values": [{}]}, "mark": {"type": "text", "text": "13 TeV", "fontSize": 50, "align": "center", "baseline": "middle"},
             "encoding": {"x": {"datum": 146, "type": "quantitative"}, "y": {"datum": 1.675, "type": "quantitative"}}},
            {"data": {"values": [{}]}, "mark": {"type": "rule", "color": "#3d6aa7", "strokeWidth": 6},
             "encoding": {"x": {"datum": 97, "type": "quantitative"}, "x2": {"datum": 2238}, "y": {"datum": 1.832, "type": "quantitative"}}}
          ]
        },
        {"data": {"values": [{}]},
         "mark": {"type": "rule", "color": "black", "strokeWidth": 3, "strokeDash": [40, 10], "strokeDashOffset": -18},
         "encoding": {
           "x": {"datum": 97, "type": "quantitative", "scale": {"type": "log", "domain": [97, 2238], "nice": false},
                 "axis": {"orient": "top", "title": null, "labels": false, "values": [100,200,300,400,500,600,700,800,900,1000,2000],
                          "tickSize": {"condition": {"test": "datum.value == 100 || datum.value == 1000", "value": -9}, "value": -5}}},
           "x2": {"datum": 2238},
           "y": {"datum": 1, "type": "quantitative", "scale": {"domain": [0.5, 1.5], "nice": false, "zero": false},
                 "axis": {"orient": "right", "title": null, "labels": false,
                          "values": [0.5,0.55,0.6,0.65,0.7,0.75,0.8,0.85,0.9,0.95,1,1.05,1.1,1.15,1.2,1.25,1.3,1.35,1.4,1.45,1.5],
                          "tickSize": {"condition": {"test": "datum.value == 0.6 || datum.value == 0.8 || datum.value == 1 || datum.value == 1.2 || datum.value == 1.4", "value": -9}, "value": -5}}}}}
      ],
      "resolve": {"scale": {"x": "independent", "y": "independent"}}
    },
    {
      "width": 263, "height": 292,
      "data": {"name": "p4"},
      "layer": [
        {
          "layer": [
            {"transform": [{"fold": ["lo", "hi"], "as": ["edge", "xe"]}],
             "mark": {"type": "area", "color": "#f6c945", "opacity": 1},
             "encoding": {
               "x": {"field": "xe", "type": "quantitative", "scale": {"type": "log", "domain": [97, 1588], "nice": false},
                     "axis": {"orient": "bottom", "title": null, "values": [100,200,300,400,500,600,700,800,900,1000],
                              "tickSize": {"condition": {"test": "datum.value == 100 || datum.value == 1000", "value": -9}, "value": -5},
                              "labelPadding": {"condition": {"test": "datum.value == 100 || datum.value == 1000", "value": 12}, "value": 8},
                              "labelExpr": "datum.value == 100 ? '100' : datum.value == 200 ? '200' : datum.value == 1000 ? '1000' : ''"}},
               "y": {"field": "bl", "type": "quantitative", "scale": {"domain": [0.5, 1.5], "nice": false, "zero": false},
                     "axis": {"orient": "left", "title": null, "labels": false,
                              "values": [0.5,0.55,0.6,0.65,0.7,0.75,0.8,0.85,0.9,0.95,1,1.05,1.1,1.15,1.2,1.25,1.3,1.35,1.4,1.45,1.5],
                              "tickSize": {"condition": {"test": "datum.value == 0.6 || datum.value == 0.8 || datum.value == 1 || datum.value == 1.2 || datum.value == 1.4", "value": -9}, "value": -5}}},
               "y2": {"field": "bh"},
               "order": [{"field": "i", "type": "quantitative"}, {"field": "edge", "type": "nominal", "sort": "descending"}]}},
            {"transform": [{"fold": ["lo", "hi"], "as": ["edge", "xe"]}],
             "mark": {"type": "line", "color": "#ec3b2f", "strokeWidth": 1.6, "strokeDash": [6, 4]},
             "encoding": {"x": {"field": "xe", "type": "quantitative"}, "y": {"field": "pu", "type": "quantitative"},
                          "order": [{"field": "i", "type": "quantitative"}, {"field": "edge", "type": "nominal", "sort": "descending"}]}},
            {"transform": [{"fold": ["lo", "hi"], "as": ["edge", "xe"]}],
             "mark": {"type": "line", "color": "#ec3b2f", "strokeWidth": 1.6, "strokeDash": [6, 4]},
             "encoding": {"x": {"field": "xe", "type": "quantitative"}, "y": {"field": "pd", "type": "quantitative"},
                          "order": [{"field": "i", "type": "quantitative"}, {"field": "edge", "type": "nominal", "sort": "descending"}]}},
            {"transform": [{"fold": ["lo", "hi"], "as": ["edge", "xe"]}],
             "mark": {"type": "line", "color": "#ec3b2f", "strokeWidth": 1.6},
             "encoding": {"x": {"field": "xe", "type": "quantitative"}, "y": {"field": "su", "type": "quantitative"},
                          "order": [{"field": "i", "type": "quantitative"}, {"field": "edge", "type": "nominal", "sort": "descending"}]}},
            {"transform": [{"fold": ["lo", "hi"], "as": ["edge", "xe"]}],
             "mark": {"type": "line", "color": "#ec3b2f", "strokeWidth": 1.6},
             "encoding": {"x": {"field": "xe", "type": "quantitative"}, "y": {"field": "sd", "type": "quantitative"},
                          "order": [{"field": "i", "type": "quantitative"}, {"field": "edge", "type": "nominal", "sort": "descending"}]}},
            {"transform": [{"fold": ["lo", "hi"], "as": ["edge", "xe"]}],
             "mark": {"type": "line", "color": "#1a3ceb", "strokeWidth": 4},
             "encoding": {"x": {"field": "xe", "type": "quantitative"}, "y": {"field": "ht", "type": "quantitative"},
                          "order": [{"field": "i", "type": "quantitative"}, {"field": "edge", "type": "nominal", "sort": "descending"}]}},
            {"mark": {"type": "rule", "color": "black", "strokeWidth": 1.5},
             "encoding": {"x": {"field": "lo", "type": "quantitative"}, "x2": {"field": "hi"}, "y": {"field": "r", "type": "quantitative"}}},
            {"mark": {"type": "errorbar", "color": "black", "thickness": 1.5},
             "encoding": {"x": {"field": "pt", "type": "quantitative"}, "y": {"field": "r", "type": "quantitative"}, "yError": {"field": "e"}}},
            {"mark": {"type": "point", "shape": "circle", "filled": true, "color": "black", "opacity": 1, "size": 65},
             "encoding": {"x": {"field": "pt", "type": "quantitative"}, "y": {"field": "r", "type": "quantitative"}}},
            {"data": {"values": [{}]}, "mark": {"type": "text", "text": "1.5 < |y| < 2.0", "align": "center", "baseline": "middle"},
             "encoding": {"x": {"datum": 392.5, "type": "quantitative"}, "y": {"datum": 1.404, "type": "quantitative"}}},
            {"data": {"values": [{}]}, "mark": {"type": "text", "text": "36.3 fb⁻¹ (13 TeV)", "fontSize": 29.5, "x": "width", "dx": -2, "align": "right", "baseline": "alphabetic"},
             "encoding": {"y": {"datum": 1.5377, "type": "quantitative"}}},
            {"data": {"values": [{}]}, "mark": {"type": "text", "text": "Jet p", "x": "width", "dx": -87, "align": "right", "baseline": "alphabetic"},
             "encoding": {"y": {"datum": 0.3459, "type": "quantitative"}}},
            {"data": {"values": [{}]}, "mark": {"type": "text", "text": "T", "fontSize": 13, "x": "width", "dx": -85, "dy": 7, "align": "left", "baseline": "alphabetic"},
             "encoding": {"y": {"datum": 0.3459, "type": "quantitative"}}},
            {"data": {"values": [{}]}, "mark": {"type": "text", "text": "(GeV)", "x": "width", "dx": -2, "align": "right", "baseline": "alphabetic"},
             "encoding": {"y": {"datum": 0.3459, "type": "quantitative"}}},
            {"data": {"values": [{}]}, "mark": {"type": "rule", "color": "#3d6aa7", "strokeWidth": 6},
             "encoding": {"x": {"datum": 97, "type": "quantitative"}, "x2": {"datum": 1748}, "y": {"datum": 1.832, "type": "quantitative"}}},
            {"data": {"values": [{}]}, "mark": {"type": "rule", "color": "#3d6aa7", "strokeWidth": 6},
             "encoding": {"x": {"datum": 1693, "type": "quantitative"}, "y": {"datum": 1.8425, "type": "quantitative"}, "y2": {"datum": 0.3048}}}
          ]
        },
        {"data": {"values": [{}]},
         "mark": {"type": "rule", "color": "black", "strokeWidth": 3, "strokeDash": [40, 10], "strokeDashOffset": -18},
         "encoding": {
           "x": {"datum": 97, "type": "quantitative", "scale": {"type": "log", "domain": [97, 1588], "nice": false},
                 "axis": {"orient": "top", "title": null, "labels": false, "values": [100,200,300,400,500,600,700,800,900,1000],
                          "tickSize": {"condition": {"test": "datum.value == 100 || datum.value == 1000", "value": -9}, "value": -5}}},
           "x2": {"datum": 1588},
           "y": {"datum": 1, "type": "quantitative", "scale": {"domain": [0.5, 1.5], "nice": false, "zero": false},
                 "axis": {"orient": "right", "title": null, "labels": false,
                          "values": [0.5,0.55,0.6,0.65,0.7,0.75,0.8,0.85,0.9,0.95,1,1.05,1.1,1.15,1.2,1.25,1.3,1.35,1.4,1.45,1.5],
                          "tickSize": {"condition": {"test": "datum.value == 0.6 || datum.value == 0.8 || datum.value == 1 || datum.value == 1.2 || datum.value == 1.4", "value": -9}, "value": -5}}}}}
      ],
      "resolve": {"scale": {"x": "independent", "y": "independent"}}
    }
  ],
  "config": {
    "view": {"stroke": "black", "strokeWidth": 1.5},
    "axis": {"grid": false, "domain": false, "tickColor": "black", "tickWidth": 1.2,
             "labelFont": "Liberation Sans", "labelFontSize": 21, "labelColor": "black",
             "titleFont": "Liberation Sans", "titleFontSize": 21, "titleFontWeight": "normal", "titleColor": "black",
             "labelFlush": false, "labelOverlap": false, "labelBound": false},
    "text": {"font": "Liberation Sans", "fontSize": 21, "color": "black"}
  }
}
